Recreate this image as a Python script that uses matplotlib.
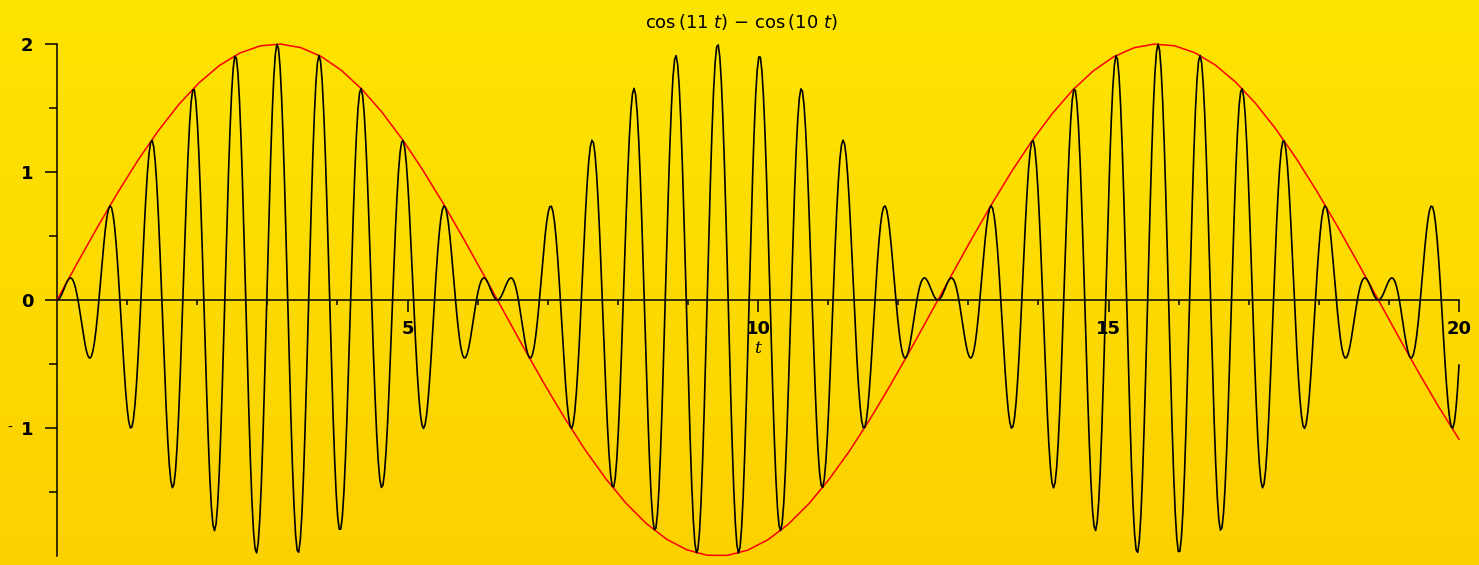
import numpy as np
import matplotlib
matplotlib.use("Agg")
import matplotlib.pyplot as plt
from matplotlib.ticker import FixedLocator

# ---- data ----
title_text = r"cos$\,$(11 $t$) $-$ cos$\,$(10 $t$)"
x_label = "t"
t_range = [0.0, 20.0]
n_curve = 900          # samples of the oscillating curve
n_env = 70             # samples of the envelope curve
t_curve = np.linspace(t_range[0], t_range[1], n_curve)
curve = np.cos(10 * t_curve) - np.cos(11 * t_curve)
t_env = np.linspace(t_range[0], t_range[1], n_env)
envelope = 2 * np.sin(t_env / 2)
x_major = [5, 10, 15, 20]
x_major_labels = ["5", "10", "15", "20"]
y_major = [2, 1, 0, -1]
y_major_labels = ["2", "1", "0", "1"]
y_minor = [1.5, 0.5, -0.5, -1.5]

W, H = 1479, 565
fig = plt.figure(figsize=(W / 100, H / 100), dpi=100)

# background gradient
bg = fig.add_axes([0, 0, 1, 1], zorder=-10)
grad = np.linspace(0, 1, 256)[:, None]
top = np.array([254, 228, 0]) / 255
bot = np.array([252, 209, 0]) / 255
img = top[None, None, :] * (1 - grad[:, :, None]) + bot[None, None, :] * grad[:, :, None]
bg.imshow(img, aspect="auto", extent=[0, 1, 0, 1])
bg.axis("off")

x0, x1 = 57, 1459
ytop, ybot = 44, 556
ax = fig.add_axes([x0 / W, (H - ybot) / H, (x1 - x0) / W, (ybot - ytop) / H])
ax.patch.set_alpha(0)
ax.set_xlim(0, 20)
ax.set_ylim(-2, 2)

ax.plot(t_env, envelope, color="#ff0000", lw=1.1, clip_on=False, zorder=3)
ax.plot(t_curve, curve, color="black", lw=1.2, clip_on=False, zorder=4)

for s in ["top", "right"]:
    ax.spines[s].set_visible(False)
ax.spines["bottom"].set_position(("data", 0))
ax.spines["left"].set_linewidth(1.1)
ax.spines["bottom"].set_linewidth(1.1)

ax.xaxis.set_major_locator(FixedLocator(x_major))
ax.set_xticklabels(x_major_labels)
ax.xaxis.set_minor_locator(FixedLocator([v for v in range(1, 20) if v % 5 != 0]))
ax.tick_params(axis="x", which="major", direction="out", length=8.5, width=1.1, pad=6,
               labelsize=13)
ax.tick_params(axis="x", which="minor", direction="out", length=3.5, width=1.1)
for lbl in ax.get_xticklabels():
    lbl.set_fontweight("bold")

ax.yaxis.set_major_locator(FixedLocator(y_major))
ax.set_yticklabels(y_major_labels)
ax.yaxis.set_minor_locator(FixedLocator(y_minor))
ax.tick_params(axis="y", which="major", direction="out", length=9, width=1.1, pad=8,
               labelsize=13)
ax.tick_params(axis="y", which="minor", direction="out", length=6, width=1.1)
for lbl in ax.get_yticklabels():
    lbl.set_fontweight("bold")

# detached minus sign of the "-1" label
fig.text(10 / W, 1 - 428 / H, "-", ha="center", va="center", fontsize=10)

ax.text(10.0, -0.38, x_label, ha="center", va="center", fontsize=12.5, style="italic",
        family="DejaVu Serif")
fig.text(741 / W, 1 - 22 / H, title_text, ha="center", va="center", fontsize=13)

fig.savefig("out.png", dpi=100)
